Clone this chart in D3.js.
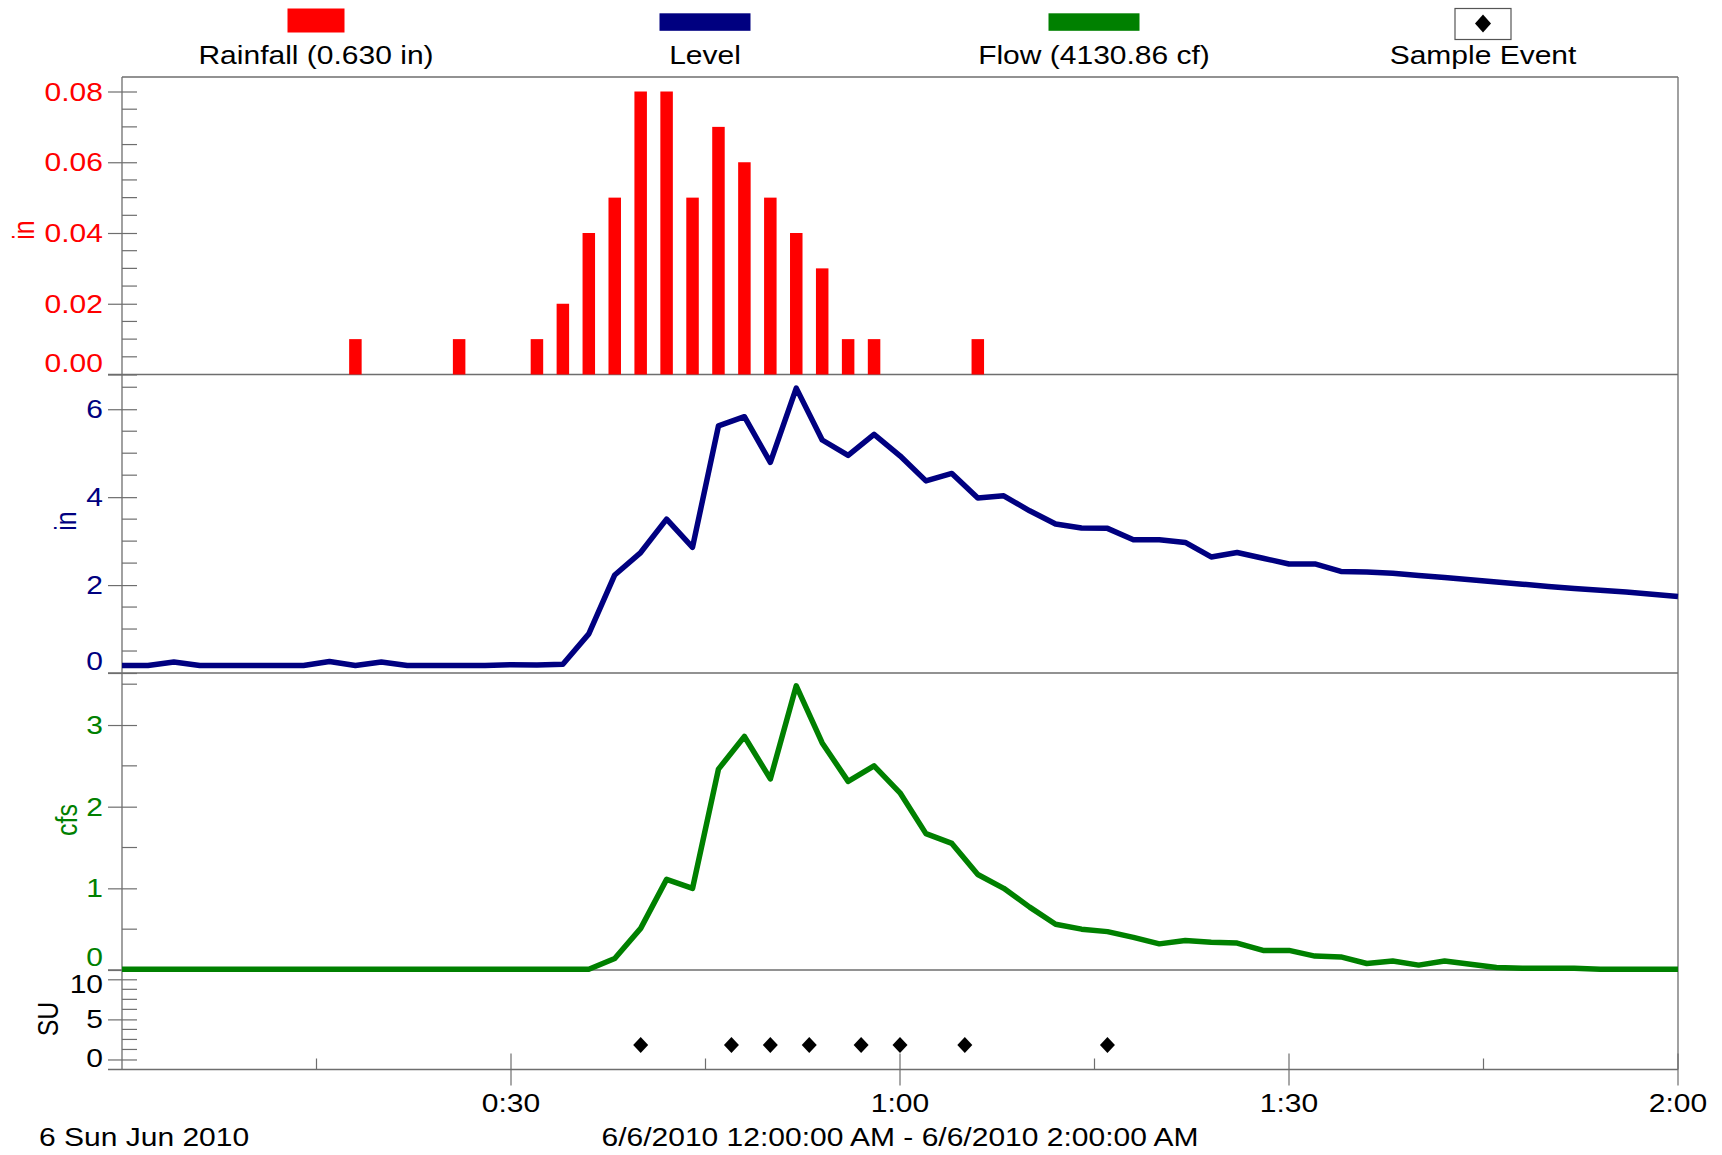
<!DOCTYPE html>
<html>
<head>
<meta charset="utf-8">
<script src="https://cdn.jsdelivr.net/npm/d3@7"></script>
<style>
  body { margin: 0; background: #fff; }
  svg { display: block; }
  text { font-family: "Liberation Sans", Arial, Helvetica, sans-serif; }
</style>
</head>
<body>
<svg id="chart" width="1722" height="1155"></svg>
<script>
// ---- data (minutes after midnight, 6/6/2010) ----
const minutes = [0,2,4,6,8,10,12,14,16,18,20,22,24,26,28,30,32,34,36,38,40,42,44,46,48,50,52,54,56,58,
  60,62,64,66,68,70,72,74,76,78,80,82,84,86,88,90,92,94,96,98,100,102,104,106,108,110,112,114,116,118,120];

const rainMinutes = [18,26,32,34,36,38,40,42,44,46,48,50,52,54,56,58,66];
const rainInches  = [0.01,0.01,0.01,0.02,0.04,0.05,0.08,0.08,0.05,0.07,0.06,0.05,0.04,0.03,0.01,0.01,0.01];

const levelInches = [0.17,0.17,0.25,0.17,0.17,0.17,0.17,0.17,0.26,0.17,0.25,0.17,0.17,0.17,0.17,0.19,0.18,0.20,
  0.89,2.23,2.74,3.50,2.86,5.62,5.83,4.79,6.48,5.30,4.95,5.43,4.94,4.37,4.54,3.98,4.03,3.69,3.39,3.30,3.29,
  3.03,3.03,2.97,2.64,2.74,2.61,2.48,2.48,2.31,2.30,2.27,2.22,2.17,2.12,2.07,2.02,1.97,1.92,1.88,1.84,1.79,1.74];

const flowCfs = [0.01,0.01,0.01,0.01,0.01,0.01,0.01,0.01,0.01,0.01,0.01,0.01,0.01,0.01,0.01,0.01,0.01,0.01,0.01,
  0.14,0.51,1.11,1.00,2.46,2.86,2.34,3.48,2.78,2.31,2.50,2.17,1.67,1.55,1.17,1.00,0.77,0.56,0.50,0.47,0.40,
  0.32,0.36,0.34,0.33,0.24,0.24,0.17,0.16,0.08,0.11,0.06,0.11,0.07,0.03,0.02,0.02,0.02,0.01,0.01,0.01,0.01];

const sampleMinutes = [40,47,50,53,57,60,65,76];
const sampleSU      = [1.8,1.8,1.8,1.8,1.8,1.8,1.8,1.8];

const rainTicks  = [0, 0.02, 0.04, 0.06, 0.08];
const levelTicks = [0, 2, 4, 6];
const flowTicks  = [0, 1, 2, 3];
const suTicks    = [0, 5, 10];
const timeTicks      = [30, 60, 90, 120];
const timeTickLabels = ["0:30", "1:00", "1:30", "2:00"];
const timeMinorTicks = [15, 45, 75, 105];

const legendLabels = ["Rainfall (0.630 in)", "Level", "Flow (4130.86 cf)", "Sample Event"];
const dateLabel  = "6 Sun Jun 2010";
const rangeLabel = "6/6/2010 12:00:00 AM - 6/6/2010 2:00:00 AM";

// ---- styling ----
const RED = "#ff0000", NAVY = "#000080", GREEN = "#008000", AXIS = "#6e6e6e";
const STRETCH = 1.2;       // text is drawn slightly wide
const FS = 25;

const svg = d3.select("#chart");
const X0 = 122, X1 = 1678;
const panel = { rain: [77, 374.5], level: [374.5, 673], flow: [673, 970], su: [970, 1069.5] };

const x = d3.scaleLinear().domain([0, 120]).range([X0, X1]);
const yRain  = d3.scaleLinear().domain([0, 0.0841]).range([panel.rain[1], panel.rain[0]]);
const yLevel = d3.scaleLinear().domain([0, 6.79]).range([panel.level[1], panel.level[0]]);
const yFlow  = d3.scaleLinear().domain([0, 3.637]).range([panel.flow[1], panel.flow[0]]);
const ySU    = d3.scaleLinear().domain([-1.25, 11.16]).range([panel.su[1], panel.su[0]]);

svg.append("rect").attr("width", 1722).attr("height", 1155).attr("fill", "#fff");

// ---- frame ----
const frame = svg.append("g").attr("stroke", AXIS).attr("stroke-width", 1.3).attr("fill", "none");
frame.append("line").attr("x1", X0).attr("x2", X1).attr("y1", panel.rain[0]).attr("y2", panel.rain[0]);
frame.append("line").attr("x1", X0).attr("x2", X0).attr("y1", panel.rain[0]).attr("y2", panel.su[1]);
frame.append("line").attr("x1", X1).attr("x2", X1).attr("y1", panel.rain[0]).attr("y2", panel.su[1]);
[panel.rain[1], panel.level[1], panel.flow[1], panel.su[1]].forEach(y => {
  frame.append("line").attr("x1", 108).attr("x2", X1).attr("y1", y).attr("y2", y);
});

// ---- vertical axes ----
// labels at either end of a panel are nudged inward so they stay inside it
function yAxis(scale, ticks, fmt, color, minorStep, bounds, pad) {
  const g = svg.append("g").attr("transform", `translate(${X0},0)`);
  const [d0, d1] = scale.domain();
  const eps = 1e-9;
  const minors = d3.range(Math.ceil(d0 / minorStep) * minorStep, d1, minorStep)
    .filter(v => v > d0 + eps && v < d1 - eps && !ticks.some(t => Math.abs(t - v) < eps));
  g.selectAll("line.minor").data(minors).join("line").attr("class", "minor")
    .attr("x1", 0).attr("x2", 15)
    .attr("y1", d => scale(d)).attr("y2", d => scale(d))
    .attr("stroke", AXIS).attr("stroke-width", 1.2);

  const a = g.append("g").call(
    d3.axisLeft(scale).tickValues(ticks).tickFormat(fmt).tickSize(14).tickPadding(5));
  a.select(".domain").remove();
  a.attr("font-size", null).attr("font-family", null);
  a.selectAll(".tick line").attr("x1", -14).attr("x2", 15).attr("stroke", AXIS).attr("stroke-width", 1.2);
  a.selectAll(".tick text")
    .attr("x", null).attr("dy", null)
    .attr("fill", color).attr("font-size", FS)
    .attr("dominant-baseline", "central")
    .attr("transform", d => {
      const y = scale(d);
      const c = Math.min(Math.max(y, bounds[0] + pad[0]), bounds[1] - pad[1]);
      return `translate(-19,${c - y}) scale(${STRETCH},1)`;
    });
}
yAxis(yRain, rainTicks, d3.format(".2f"), RED, 0.005, panel.rain, [12, 12]);
yAxis(yLevel, levelTicks, d3.format("d"), NAVY, 0.5, panel.level, [12, 12]);
yAxis(yFlow, flowTicks, d3.format("d"), GREEN, 0.5, panel.flow, [12, 13.5]);
yAxis(ySU, suTicks, d3.format("d"), "#000", 1.25, panel.su, [14, 12]);

// axis titles
function yTitle(label, cx, cy, color) {
  svg.append("text")
    .attr("transform", `translate(${cx},${cy}) rotate(-90) scale(1,${STRETCH})`)
    .attr("text-anchor", "middle").attr("dominant-baseline", "central")
    .attr("font-size", FS).attr("fill", color).text(label);
}
yTitle("in", 24, 230, RED);
yTitle("in", 66, 521, NAVY);
yTitle("cfs", 67, 820, GREEN);
yTitle("SU", 48, 1019, "#000");

// ---- time axis ----
const tg = svg.append("g");
tg.selectAll("line.major").data(timeTicks).join("line").attr("class", "major")
  .attr("x1", d => x(d)).attr("x2", d => x(d))
  .attr("y1", panel.su[1] - 16).attr("y2", panel.su[1] + 16)
  .attr("stroke", AXIS).attr("stroke-width", 1.2);
tg.selectAll("line.minor").data(timeMinorTicks).join("line").attr("class", "minor")
  .attr("x1", d => x(d)).attr("x2", d => x(d))
  .attr("y1", panel.su[1] - 11).attr("y2", panel.su[1])
  .attr("stroke", AXIS).attr("stroke-width", 1.2);
tg.selectAll("text").data(timeTicks).join("text")
  .attr("transform", d => `translate(${x(d)},1112) scale(${STRETCH},1)`)
  .attr("text-anchor", "middle").attr("font-size", FS).attr("fill", "#000")
  .text((d, i) => timeTickLabels[i]);

svg.append("text")
  .attr("transform", `translate(39,1146) scale(${STRETCH},1)`)
  .attr("font-size", FS).attr("fill", "#000").text(dateLabel);
svg.append("text")
  .attr("transform", `translate(${(X0 + X1) / 2},1146) scale(${STRETCH},1)`)
  .attr("text-anchor", "middle").attr("font-size", FS).attr("fill", "#000").text(rangeLabel);

// ---- rainfall bars ----
const barW = 12.5;
svg.append("g").selectAll("rect").data(rainInches).join("rect")
  .attr("x", (d, i) => x(rainMinutes[i]) - barW / 2)
  .attr("width", barW)
  .attr("y", d => yRain(d))
  .attr("height", d => yRain(0) - yRain(d))
  .attr("fill", RED);

// ---- level and flow lines ----
svg.append("path").datum(levelInches)
  .attr("d", d3.line().x((d, i) => x(minutes[i])).y(d => yLevel(d)))
  .attr("fill", "none").attr("stroke", NAVY).attr("stroke-width", 5.5)
  .attr("stroke-linejoin", "round");

svg.append("path").datum(flowCfs)
  .attr("d", d3.line().x((d, i) => x(minutes[i])).y(d => yFlow(d)))
  .attr("fill", "none").attr("stroke", GREEN).attr("stroke-width", 5.5)
  .attr("stroke-linejoin", "round");

// ---- sample events ----
const diamond = (cx, cy, hw, hh) => `M${cx},${cy - hh}L${cx + hw},${cy}L${cx},${cy + hh}L${cx - hw},${cy}Z`;
svg.append("g").selectAll("path").data(sampleSU).join("path")
  .attr("d", (d, i) => diamond(x(sampleMinutes[i]), ySU(d), 7.5, 8))
  .attr("fill", "#000");

// ---- legend ----
const legend = svg.append("g");
const legendCx = [316, 705, 1094, 1483];
legend.append("rect").attr("x", legendCx[0] - 28.5).attr("y", 8.5).attr("width", 57).attr("height", 24).attr("fill", RED);
legend.append("rect").attr("x", legendCx[1] - 45.5).attr("y", 13.3).attr("width", 91).attr("height", 17.5).attr("fill", NAVY);
legend.append("rect").attr("x", legendCx[2] - 45.5).attr("y", 13.3).attr("width", 91).attr("height", 17.5).attr("fill", GREEN);
legend.append("rect").attr("x", legendCx[3] - 28).attr("y", 8.5).attr("width", 56).attr("height", 31)
  .attr("fill", "#fff").attr("stroke", "#555").attr("stroke-width", 1.2);
legend.append("path").attr("d", diamond(legendCx[3], 23.5, 8, 9)).attr("fill", "#000");
legend.selectAll("text").data(legendLabels).join("text")
  .attr("transform", (d, i) => `translate(${legendCx[i]},64) scale(${STRETCH},1)`)
  .attr("text-anchor", "middle").attr("font-size", 25).attr("fill", "#000")
  .text(d => d);
</script>
</body>
</html>
